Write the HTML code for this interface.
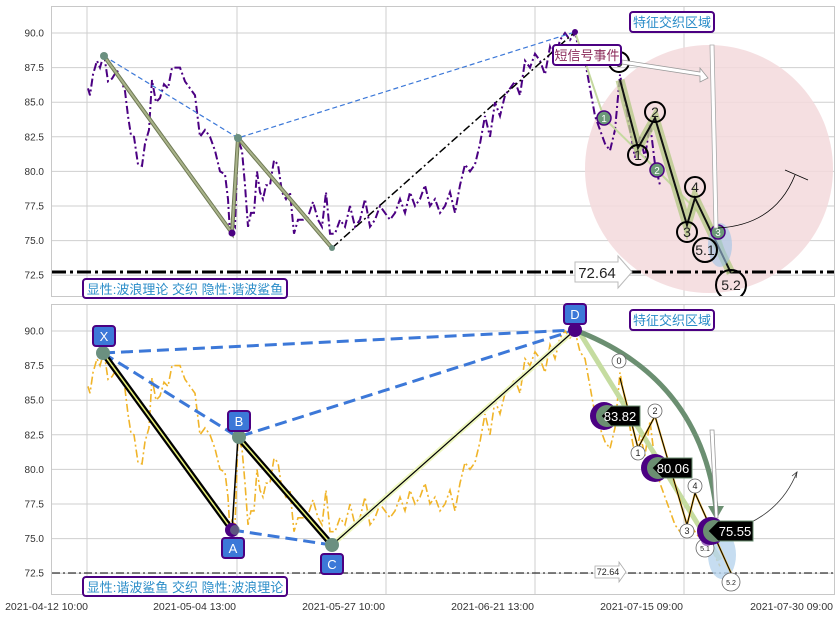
<!DOCTYPE html>
<html><head><meta charset="utf-8"><style>
body{margin:0;background:#fff;}
svg{display:block;font-family:"Liberation Sans","Noto Sans CJK SC",sans-serif;}
</style></head><body>
<svg id="s" width="840" height="617" viewBox="0 0 840 617" xmlns="http://www.w3.org/2000/svg">
<rect width="840" height="617" fill="#fff"/>
<g id="grid" stroke="#cfcfcf" stroke-width="1"></g>
<rect x="51.5" y="6.5" width="783" height="290" fill="none" stroke="#c8c8c8"/>
<rect x="51.5" y="304.5" width="783" height="290" fill="none" stroke="#c8c8c8"/>
<defs>
<clipPath id="c1"><rect x="52" y="7" width="782" height="289"/></clipPath>
<clipPath id="c2"><rect x="52" y="305" width="782" height="289"/></clipPath>
</defs>
<g clip-path="url(#c1)">
<circle cx="709" cy="169" r="124" fill="#f3d9dc" opacity="0.85"/>
<polyline id="p1" fill="none" stroke="#4b0082" stroke-width="2" stroke-dasharray="8,3,2,3"/>
<polyline points="104,56 238,138 575,32" fill="none" stroke="#3c78d8" stroke-width="1.2" stroke-dasharray="5,3"/>
<polyline points="104,56 232,233 238,138 332,248" fill="none" stroke="#6f7a55" stroke-width="4"/>
<polyline points="104,56 232,233 238,138 332,248" fill="none" stroke="#a9b38a" stroke-width="2"/>
<line x1="332" y1="248" x2="575" y2="32" stroke="#000" stroke-width="1.5" stroke-dasharray="8,3,2,3"/>
<line x1="52" y1="272" x2="834" y2="272" stroke="#000" stroke-width="3" stroke-dasharray="14,4,3,4"/>
<polyline points="575,32 604,118 657,170 718,232 731,273" fill="none" stroke="#c5d9a0" stroke-width="2"/>
<polyline points="620,80 638,148 655,118 687,225 695,198 731,273" fill="none" stroke="#b8c98a" stroke-width="9" opacity="0.8"/>
<polyline points="620,80 638,148 655,118 687,225 695,198 731,273" fill="none" stroke="#111" stroke-width="2"/>
<ellipse cx="720" cy="245" rx="12" ry="22" fill="#9ec3e6" opacity="0.6"/>
<circle cx="104" cy="56" r="4" fill="#6b9080"/><circle cx="238" cy="138" r="4" fill="#6b9080"/>
<circle cx="232" cy="233" r="3.5" fill="#4b0082"/><circle cx="332" cy="248" r="3" fill="#6b9080"/><circle cx="575" cy="32" r="3" fill="#4b0082"/>
<g fill="none" stroke="#000" stroke-width="2">
<circle cx="619" cy="62" r="10"/><circle cx="638" cy="155" r="10"/><circle cx="655" cy="112" r="10"/><circle cx="687" cy="232" r="10"/><circle cx="695" cy="187" r="10"/><circle cx="705" cy="250" r="12"/><circle cx="731" cy="285" r="15"/></g>
<g font-size="14" text-anchor="middle" fill="#222"><text x="619" y="67">0</text><text x="638" y="160">1</text><text x="655" y="117">2</text><text x="687" y="237">3</text><text x="695" y="192">4</text><text x="705" y="255">5.1</text><text x="731" y="290">5.2</text></g>
<g stroke="#4b0082" stroke-width="1.5" fill="#6b9a78"><circle cx="604" cy="118" r="7"/><circle cx="657" cy="170" r="7"/><circle cx="718" cy="232" r="7"/></g>
<g font-size="10" fill="#fff" text-anchor="middle"><text x="604" y="122">1</text><text x="657" y="174">2</text><text x="718" y="236">3</text></g>
<polygon points="622,60 700,72 700,68 708,78 700,82 700,76 622,64" fill="#fff" stroke="#999" stroke-width="0.8"/>
<polygon points="710,45 714,45 718,228 714,228" fill="#fff" stroke="#aaa" stroke-width="0.8"/>
<path d="M718,228 Q775,225 795,175" fill="none" stroke="#000" stroke-width="0.8"/>
<line x1="785" y1="170" x2="808" y2="180" stroke="#000" stroke-width="0.8"/>
<polygon points="575,262 618,262 618,256 632,272 618,288 618,282 575,282" fill="#fff" stroke="#bbb"/>
<text x="597" y="278" font-size="15" text-anchor="middle" fill="#222">72.64</text>
</g>
<rect x="553" y="45" width="68" height="20" rx="3" fill="#fff" stroke="#4b0082" stroke-width="2"/>
<text x="587" y="60" font-size="13" text-anchor="middle" fill="#8b2a5a">短信号事件</text>
<rect x="630" y="12" width="84" height="20" rx="3" fill="#fff" stroke="#4b0082" stroke-width="2"/>
<text x="672" y="27" font-size="13" text-anchor="middle" fill="#2a8cc8">特征交织区域</text>
<rect x="83" y="279" width="204" height="19" rx="3" fill="#fff" stroke="#4b0082" stroke-width="2"/>
<text x="185" y="294" font-size="13" text-anchor="middle" fill="#2a8cc8">显性:波浪理论 交织 隐性:谐波鲨鱼</text>

<g clip-path="url(#c2)">
<polyline id="p2" fill="none" stroke="#f0b429" stroke-width="1.6" stroke-dasharray="8,3,2,3"/>
<line x1="52" y1="573" x2="834" y2="573" stroke="#000" stroke-width="1" stroke-dasharray="8,3,2,3"/>
<polyline points="103,353 575,330" fill="none" stroke="#3c78d8" stroke-width="3" stroke-dasharray="12,6"/>
<polyline points="103,353 238,437 575,330" fill="none" stroke="#3c78d8" stroke-width="3" stroke-dasharray="12,6"/>
<polyline points="232,530 332,545" fill="none" stroke="#3c78d8" stroke-width="3" stroke-dasharray="12,6"/>
<line x1="332" y1="545" x2="575" y2="330" stroke="#eef7c0" stroke-width="5"/>
<line x1="332" y1="545" x2="575" y2="330" stroke="#000" stroke-width="1.2"/>
<line x1="232" y1="530" x2="238" y2="437" stroke="#000" stroke-width="1.5"/>
<polyline points="103,353 232,530" fill="none" stroke="#000" stroke-width="6"/>
<polyline points="103,353 232,530" fill="none" stroke="#e8f07a" stroke-width="1.5"/>
<polyline points="238,437 332,545" fill="none" stroke="#000" stroke-width="6"/>
<polyline points="238,437 332,545" fill="none" stroke="#e8f07a" stroke-width="1.5"/>
<polyline points="578,330 720,560" fill="none" stroke="#c5dca0" stroke-width="5"/>
<ellipse cx="722" cy="555" rx="14" ry="24" fill="#b8d4ee" opacity="0.8"/>
<polyline points="620,378 638,448 655,416 687,525 695,493 731,573" fill="none" stroke="#f0b429" stroke-width="2"/>
<polyline points="620,378 638,448 655,416 687,525 695,493 731,573" fill="none" stroke="#000" stroke-width="1"/>
<path d="M580,332 Q700,380 716,508" fill="none" stroke="#6b8f71" stroke-width="5"/>
<polygon points="708,506 724,506 716,520" fill="#6b8f71"/>
<polygon points="710,430 714,430 718,518 715,518" fill="#fff" stroke="#999" stroke-width="0.8"/>
<path d="M732,530 Q780,515 797,472" fill="none" stroke="#333" stroke-width="0.8"/>
<polyline points="792,476 797,472 796,478" fill="none" stroke="#333" stroke-width="0.8"/>
<g fill="#fff" stroke="#666" stroke-width="0.8">
<circle cx="619" cy="361" r="7"/><circle cx="638" cy="453" r="7"/><circle cx="655" cy="411" r="7"/><circle cx="687" cy="531" r="7"/><circle cx="695" cy="486" r="7"/><circle cx="705" cy="548" r="9"/><circle cx="731" cy="582" r="9"/></g>
<g font-size="9" text-anchor="middle" fill="#222"><text x="619" y="364">0</text><text x="638" y="456">1</text><text x="655" y="414">2</text><text x="687" y="534">3</text><text x="695" y="489">4</text><text x="705" y="551" font-size="7">5.1</text><text x="731" y="585" font-size="7">5.2</text></g>
<circle cx="707" cy="540" r="6" fill="#8a4fb0" opacity="0.8"/>
<g>
<circle cx="604" cy="416" r="14" fill="#4b0082"/><circle cx="607" cy="416" r="11" fill="#6b8f71"/>
<polygon points="601,416 611,406 640,406 640,426 611,426" fill="#000" stroke="#6b8f71"/>
<text x="620" y="421" font-size="13" fill="#fff" text-anchor="middle">83.82</text>
<circle cx="655" cy="468" r="14" fill="#4b0082"/><circle cx="658" cy="468" r="11" fill="#6b8f71"/>
<polygon points="652,468 662,458 692,458 692,478 662,478" fill="#000" stroke="#6b8f71"/>
<text x="673" y="473" font-size="13" fill="#fff" text-anchor="middle">80.06</text>
<circle cx="711" cy="531" r="14" fill="#4b0082"/><circle cx="714" cy="531" r="11" fill="#6b8f71"/>
<polygon points="708,531 718,521 753,521 753,541 718,541" fill="#000" stroke="#6b8f71"/>
<text x="735" y="536" font-size="13" fill="#fff" text-anchor="middle">75.55</text>
</g>
<polygon points="595,566 619,566 619,562 626,572 619,582 619,578 595,578" fill="#fff" stroke="#aaa" stroke-width="0.8"/>
<text x="608" y="575" font-size="9" text-anchor="middle" fill="#222">72.64</text>
<circle cx="103" cy="353" r="7" fill="#6b9080"/>
<circle cx="232" cy="530" r="7" fill="#4b0082"/><circle cx="235" cy="530" r="5" fill="#6b9080" opacity="0.6"/>
<circle cx="239" cy="437" r="7" fill="#6b9080"/>
<circle cx="332" cy="545" r="7" fill="#6b9080"/>
<circle cx="575" cy="330" r="7" fill="#4b0082"/>
</g>
<g font-size="13" fill="#fff" text-anchor="middle">
<rect x="93" y="326" width="22" height="20" rx="3" fill="#3c78d8" stroke="#4b0082" stroke-width="2"/><text x="104" y="341">X</text>
<rect x="222" y="538" width="22" height="20" rx="3" fill="#3c78d8" stroke="#4b0082" stroke-width="2"/><text x="233" y="553">A</text>
<rect x="228" y="411" width="22" height="20" rx="3" fill="#3c78d8" stroke="#4b0082" stroke-width="2"/><text x="239" y="426">B</text>
<rect x="321" y="554" width="22" height="20" rx="3" fill="#3c78d8" stroke="#4b0082" stroke-width="2"/><text x="332" y="569">C</text>
<rect x="564" y="304" width="22" height="20" rx="3" fill="#3c78d8" stroke="#4b0082" stroke-width="2"/><text x="575" y="319">D</text>
</g>
<rect x="630" y="310" width="84" height="20" rx="3" fill="#fff" stroke="#4b0082" stroke-width="2"/>
<text x="672" y="325" font-size="13" text-anchor="middle" fill="#2a8cc8">特征交织区域</text>
<rect x="83" y="577" width="204" height="19" rx="3" fill="#fff" stroke="#4b0082" stroke-width="2"/>
<text x="185" y="592" font-size="13" text-anchor="middle" fill="#2a8cc8">显性:谐波鲨鱼 交织 隐性:波浪理论</text>
<g id="ticks" font-size="10" fill="#333"></g>
</svg>
<script>
var ns="http://www.w3.org/2000/svg";
function el(p,t,a,txt){var e=document.createElementNS(ns,t);for(var k in a)e.setAttribute(k,a[k]);if(txt)e.textContent=txt;p.appendChild(e);return e;}
var g=document.getElementById('grid'),tk=document.getElementById('ticks');
var xs=[87,237,386,535,684];
xs.forEach(function(x){el(g,'line',{x1:x,y1:7,x2:x,y2:296});el(g,'line',{x1:x,y1:305,x2:x,y2:594});});
var vals=[90,87.5,85,82.5,80,77.5,75,72.5];
vals.forEach(function(v){[33,331].forEach(function(o){var y=o+(90-v)*13.84;el(g,'line',{x1:52,y1:y,x2:834,y2:y});el(tk,'text',{x:44,y:y+3.5,'text-anchor':'end'},v.toFixed(1));});});
var xl=[[88,'2021-04-12 10:00'],[236,'2021-05-04 13:00'],[385,'2021-05-27 10:00'],[534,'2021-06-21 13:00'],[683,'2021-07-15 09:00'],[833,'2021-07-30 09:00']];
xl.forEach(function(a){el(tk,'text',{x:a[0],y:610,'text-anchor':'end','font-size':'10.5'},a[1]);});
var d=[[88,86],[90,85.5],[93,87],[97,88],[100,87.5],[104,88.5],[108,86.5],[112,86.7],[117,87.3],[120,86.8],[125,85.8],[128,84],[131,82.6],[134,82.5],[138,80.5],[142,80.4],[145,82],[149,83],[152,86.6],[156,85],[160,85.3],[164,86.3],[168,86],[172,87.5],[180,87.5],[185,86.5],[195,85.5],[200,82.5],[205,83],[210,82.5],[215,81.5],[220,80],[225,79.8],[228,78],[230,75.5],[232,76.3],[235,76],[238,82.3],[242,81.5],[245,79],[248,76],[251,77],[254,77],[257,80],[260,78.5],[263,78],[266,79],[270,79],[274,80.8],[278,80.5],[282,78.5],[286,78],[290,78.5],[294,75.5],[298,76.5],[303,76.5],[308,76.7],[313,77.8],[318,76.5],[322,76],[326,78.5],[330,75.5],[335,75.5],[340,76.5],[345,76],[350,77.5],[355,76],[360,76.5],[365,78],[370,76],[375,76.5],[380,77.5],[385,77],[390,76.5],[395,77],[400,78],[405,77],[410,78.5],[415,77.5],[420,78],[425,79],[430,77.5],[435,78],[440,77],[445,77.5],[450,78.5],[455,77],[460,79],[465,80.5],[470,80],[475,80.5],[480,82],[485,84],[490,82.5],[495,85],[500,84],[505,85.5],[510,86],[515,86.5],[520,85.5],[525,88],[530,87.5],[535,88.5],[540,88],[545,87],[550,89],[555,88],[560,89.5],[565,90],[570,89.5],[575,90],[580,88.5],[585,88],[590,86],[595,84],[600,83],[605,82],[610,81.5],[615,83],[620,87],[625,85],[630,83],[635,81],[640,82.5],[645,81],[650,83.5],[655,80.5],[660,79]];
var d2=d.concat([[665,78],[670,77],[675,76],[680,75.5],[690,76],[700,75],[710,74.5],[720,73]]);
function pts(a,o){return a.map(function(p){return p[0]+','+(o+(90-p[1])*13.84).toFixed(1);}).join(' ');}
document.getElementById('p1').setAttribute('points',pts(d,33));
document.getElementById('p2').setAttribute('points',pts(d2,331));
</script>
</body></html>
